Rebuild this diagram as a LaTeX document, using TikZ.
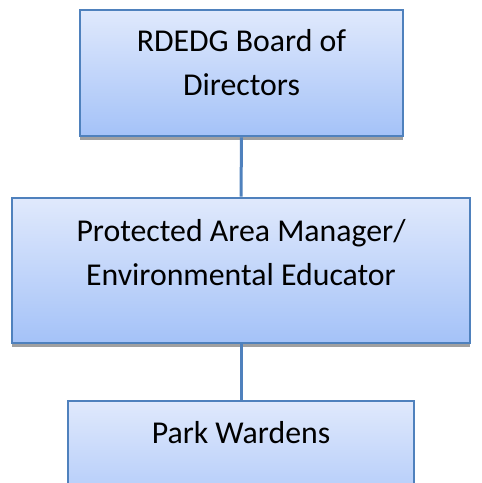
\documentclass[tikz,border=0pt]{standalone}
\usepackage{fontspec}
\setmainfont{Carlito}
\definecolor{boxtop}{HTML}{E0E9FC}
\definecolor{boxbot}{HTML}{A4C2F8}
\definecolor{boxedge}{HTML}{4F81BD}
\definecolor{shadowgray}{HTML}{A0A0A0}
\usetikzlibrary{positioning}

\begin{document}
\begin{tikzpicture}[
    x=1pt, y=-1pt,
    orgbox/.style={rectangle, draw=boxedge, line width=2.6pt, top color=boxtop, bottom color=boxbot, inner sep=0pt,
      preaction={fill=shadowgray, transform canvas={yshift=-4pt}}},
    boxtext/.style={inner sep=0pt, align=center, text=black, font=\fontsize{31.8}{44.5}\selectfont},
    link/.style={boxedge, line width=3pt},
  ]
    \useasboundingbox (0,0) rectangle (482,483);

    \node[orgbox, minimum width=323pt, minimum height=126pt] (board) at (241.5,73) {};
    \node[orgbox, minimum width=458pt, minimum height=145pt] (manager) at (241,270.5) {};
    \node[orgbox, minimum width=346pt, minimum height=130pt] (wardens) at (241,466) {};

    \node[boxtext, anchor=north] (boardtxt) at ([yshift=-20.5pt]board.north) {RDEDG Board of\\Directors};
    \node[boxtext, anchor=north] (managertxt) at ([yshift=-22.5pt]manager.north) {Protected Area Manager/\\Environmental Educator};
    \node[boxtext, anchor=north] (wardenstxt) at ([yshift=-22pt]wardens.north) {Park Wardens};

    \draw[link] (board.south) -- (manager.north);
    \draw[link] (manager.south) -- (wardens.north);
  \end{tikzpicture}
\end{document}
